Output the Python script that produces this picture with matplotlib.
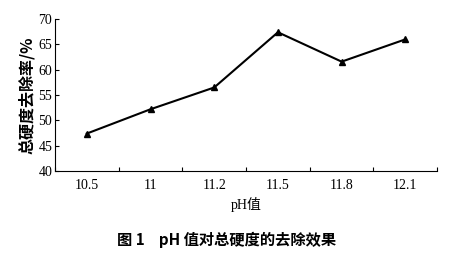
import matplotlib
matplotlib.use('Agg')
import matplotlib.pyplot as plt
import numpy as np

ph_labels = ['10.5', '11', '11.2', '11.5', '11.8', '12.1']
removal = [47.4, 52.2, 56.5, 67.4, 61.6, 66.0]

SERIF = ['Liberation Serif', 'Noto Sans CJK SC']
CJK = ['Noto Sans CJK SC', 'Liberation Serif']

fig = plt.figure(figsize=(4.54, 2.58), dpi=100)
ax = fig.add_axes([0.121, 0.337, 0.842, 0.589])

x = np.arange(len(ph_labels))
ax.plot(x, removal, color='black', linewidth=1.5, marker='^', markersize=5)

ax.set_xlim(-0.5, len(ph_labels) - 0.5)
ax.set_ylim(40, 70)
ax.set_yticks(np.arange(40, 71, 5))
ax.set_yticklabels([str(v) for v in range(40, 71, 5)], family=SERIF, fontsize=10)

# category boundaries get the tick marks, centers get the labels
ax.set_xticks(np.arange(-0.5, len(ph_labels), 1.0))
ax.set_xticklabels([])
ax.set_xticks(x, minor=True)
ax.set_xticklabels(ph_labels, minor=True, family=SERIF, fontsize=10)
ax.tick_params(axis='x', which='major', direction='in', length=3, width=0.8)
ax.tick_params(axis='x', which='minor', length=0, pad=6)
ax.tick_params(axis='y', direction='in', length=3, width=0.8, pad=2)

ax.spines['right'].set_visible(False)
ax.spines['top'].set_visible(False)
ax.spines['left'].set_linewidth(0.8)
ax.spines['bottom'].set_linewidth(0.8)

ax.set_xlabel('pH值', family=SERIF, fontsize=10, labelpad=3)
ax.set_ylabel('总硬度去除率/%', family=CJK, fontsize=11.5, fontweight='bold',
              labelpad=2)

fig.text(0.5, 0.07, '图 1    pH 值对总硬度的去除效果', family=CJK,
         fontsize=11, fontweight='bold', ha='center', va='center')

plt.savefig('out.png', dpi=100)
